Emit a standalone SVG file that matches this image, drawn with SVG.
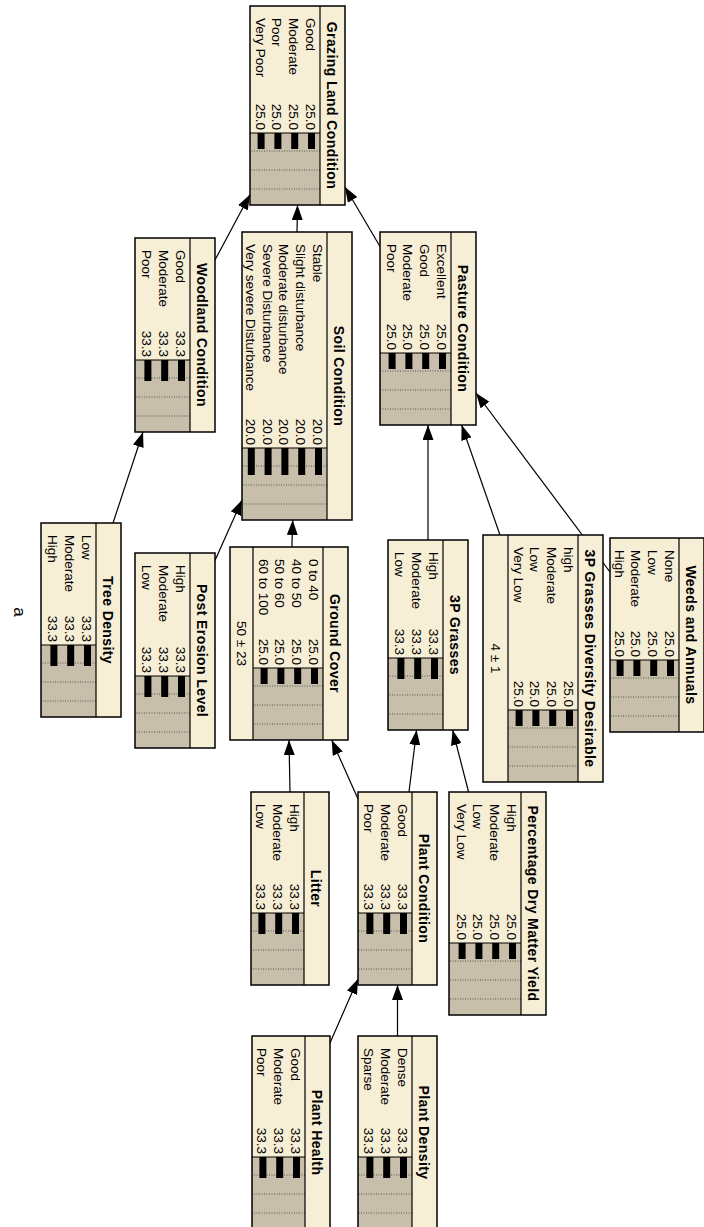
<svg xmlns="http://www.w3.org/2000/svg" width="704" height="1227" viewBox="0 0 704 1227">
<style>
.body{fill:#F7EED6;stroke:none}
.barea{fill:#C8BFAA}
.frame{fill:none;stroke:#000;stroke-width:1.5}
.sep{fill:none;stroke:#000;stroke-width:1.2}
.grid{fill:none;stroke:#555;stroke-width:1;stroke-dasharray:1 1.5}
.bar{fill:#000}
.title{font-family:"Liberation Sans",Arial,sans-serif;font-size:14px;font-weight:bold;letter-spacing:0.4px;text-anchor:middle;fill:#000}
.lab{font-family:"Liberation Sans",Arial,sans-serif;font-size:13.5px;fill:#000}
.val{font-family:"Liberation Sans",Arial,sans-serif;font-size:13.5px;text-anchor:end;fill:#000}
.ev{font-family:"Liberation Sans",Arial,sans-serif;font-size:13.5px;text-anchor:middle;fill:#000}
.link{fill:none;stroke:#000;stroke-width:1.2;marker-end:url(#ah)}
.cap{font-family:"Liberation Sans",Arial,sans-serif;font-size:17px;text-anchor:middle;fill:#000}
</style>
<defs>
<marker id="ah" markerUnits="userSpaceOnUse" markerWidth="16" markerHeight="11" refX="15" refY="5.5" orient="auto">
<path d="M0,0L15,5.5L0,11z" fill="#000"/>
</marker>
</defs>
<g id="connectors">
<path class="link" d="M297,232L297.5,205"/>
<path class="link" d="M215,260L250,194.5"/>
<path class="link" d="M380,246.5L345,187"/>
<path class="link" d="M610,572L476,393"/>
<path class="link" d="M500,535L461.6,425"/>
<path class="link" d="M428,540L428,425"/>
<path class="link" d="M291.9,547L292.7,520"/>
<path class="link" d="M215,560.5L242,500"/>
<path class="link" d="M113,523L143,432"/>
<path class="link" d="M290,792L289,740"/>
<path class="link" d="M358,799L331.7,740"/>
<path class="link" d="M409,792L416.6,730"/>
<path class="link" d="M468.6,792L452.6,730"/>
<path class="link" d="M397.5,1036L397.5,985"/>
<path class="link" d="M330,1043L358,979"/>
</g>

<g id="grazing" transform="translate(345,6) rotate(90)">
<rect class="body" width="199" height="95"/>
<rect class="barea" x="127" y="25" width="72" height="70"/>
<path class="grid" d="M145,25V95M164,25V95M183,25V95"/>
<path class="sep" d="M0,25H199M127,25V95"/>
<rect class="frame" width="199" height="95"/>
<text class="title" x="99.5" y="18">Grazing Land Condition</text>
<text class="lab" x="12" y="39">Good</text><text class="val" x="124" y="39">25.0</text>
<text class="lab" x="12" y="55.8">Moderate</text><text class="val" x="124" y="55.8">25.0</text>
<text class="lab" x="12" y="72.6">Poor</text><text class="val" x="124" y="72.6">25.0</text>
<text class="lab" x="12" y="89.4">Very Poor</text><text class="val" x="124" y="89.4">25.0</text>
<rect class="bar" x="127" y="30" width="16" height="7"/>
<rect class="bar" x="127" y="46.8" width="16" height="7"/>
<rect class="bar" x="127" y="63.6" width="16" height="7"/>
<rect class="bar" x="127" y="80.4" width="16" height="7"/>
</g>

<g id="pasture" transform="translate(476,232) rotate(90)">
<rect class="body" width="193" height="96"/>
<rect class="barea" x="121" y="25" width="72" height="71"/>
<path class="grid" d="M139,25V96M158,25V96M177,25V96"/>
<path class="sep" d="M0,25H193M121,25V96"/>
<rect class="frame" width="193" height="96"/>
<text class="title" x="96.5" y="18">Pasture Condition</text>
<text class="lab" x="12" y="39">Excellent</text><text class="val" x="118" y="39">25.0</text>
<text class="lab" x="12" y="55.8">Good</text><text class="val" x="118" y="55.8">25.0</text>
<text class="lab" x="12" y="72.6">Moderate</text><text class="val" x="118" y="72.6">25.0</text>
<text class="lab" x="12" y="89.4">Poor</text><text class="val" x="118" y="89.4">25.0</text>
<rect class="bar" x="121" y="30" width="16" height="7"/>
<rect class="bar" x="121" y="46.8" width="16" height="7"/>
<rect class="bar" x="121" y="63.6" width="16" height="7"/>
<rect class="bar" x="121" y="80.4" width="16" height="7"/>
</g>

<g id="soil" transform="translate(352,232) rotate(90)">
<rect class="body" width="288" height="110"/>
<rect class="barea" x="216" y="25" width="72" height="85"/>
<path class="grid" d="M234,25V110M253,25V110M272,25V110"/>
<path class="sep" d="M0,25H288M216,25V110"/>
<rect class="frame" width="288" height="110"/>
<text class="title" x="144" y="18">Soil Condition</text>
<text class="lab" x="12" y="39">Stable</text><text class="val" x="213" y="39">20.0</text>
<text class="lab" x="12" y="55.8">Slight disturbance</text><text class="val" x="213" y="55.8">20.0</text>
<text class="lab" x="12" y="72.6">Moderate disturbance</text><text class="val" x="213" y="72.6">20.0</text>
<text class="lab" x="12" y="89.4">Severe Disturbance</text><text class="val" x="213" y="89.4">20.0</text>
<text class="lab" x="12" y="106.2">Very severe Disturbance</text><text class="val" x="213" y="106.2">20.0</text>
<rect class="bar" x="216" y="30" width="27" height="7"/>
<rect class="bar" x="216" y="46.8" width="27" height="7"/>
<rect class="bar" x="216" y="63.6" width="27" height="7"/>
<rect class="bar" x="216" y="80.4" width="27" height="7"/>
<rect class="bar" x="216" y="97.2" width="27" height="7"/>
</g>

<g id="woodland" transform="translate(215,238) rotate(90)">
<rect class="body" width="194" height="80"/>
<rect class="barea" x="122" y="25" width="72" height="55"/>
<path class="grid" d="M140,25V80M159,25V80M178,25V80"/>
<path class="sep" d="M0,25H194M122,25V80"/>
<rect class="frame" width="194" height="80"/>
<text class="title" x="97" y="18">Woodland Condition</text>
<text class="lab" x="12" y="39">Good</text><text class="val" x="119" y="39">33.3</text>
<text class="lab" x="12" y="55.8">Moderate</text><text class="val" x="119" y="55.8">33.3</text>
<text class="lab" x="12" y="72.6">Poor</text><text class="val" x="119" y="72.6">33.3</text>
<rect class="bar" x="122" y="30" width="21" height="7"/>
<rect class="bar" x="122" y="46.8" width="21" height="7"/>
<rect class="bar" x="122" y="63.6" width="21" height="7"/>
</g>

<g id="weeds" transform="translate(704,538) rotate(90)">
<rect class="body" width="194" height="94"/>
<rect class="barea" x="122" y="25" width="72" height="69"/>
<path class="grid" d="M140,25V94M159,25V94M178,25V94"/>
<path class="sep" d="M0,25H194M122,25V94"/>
<rect class="frame" width="194" height="94"/>
<text class="title" x="97" y="18">Weeds and Annuals</text>
<text class="lab" x="12" y="39">None</text><text class="val" x="119" y="39">25.0</text>
<text class="lab" x="12" y="55.8">Low</text><text class="val" x="119" y="55.8">25.0</text>
<text class="lab" x="12" y="72.6">Moderate</text><text class="val" x="119" y="72.6">25.0</text>
<text class="lab" x="12" y="89.4">High</text><text class="val" x="119" y="89.4">25.0</text>
<rect class="bar" x="122" y="30" width="16" height="7"/>
<rect class="bar" x="122" y="46.8" width="16" height="7"/>
<rect class="bar" x="122" y="63.6" width="16" height="7"/>
<rect class="bar" x="122" y="80.4" width="16" height="7"/>
</g>

<g id="div3p" transform="translate(603,535) rotate(90)">
<rect class="body" width="247" height="120"/>
<rect class="barea" x="175" y="25" width="72" height="70"/>
<path class="grid" d="M193,25V95M212,25V95M231,25V95"/>
<path class="sep" d="M0,25H247M175,25V95M0,95H247"/>
<rect class="frame" width="247" height="120"/>
<text class="title" x="123.5" y="18">3P Grasses Diversity Desirable</text>
<text class="lab" x="12" y="39">high</text><text class="val" x="172" y="39">25.0</text>
<text class="lab" x="12" y="55.8">Moderate</text><text class="val" x="172" y="55.8">25.0</text>
<text class="lab" x="12" y="72.6">Low</text><text class="val" x="172" y="72.6">25.0</text>
<text class="lab" x="12" y="89.4">Very Low</text><text class="val" x="172" y="89.4">25.0</text>
<rect class="bar" x="175" y="30" width="16" height="7"/>
<rect class="bar" x="175" y="46.8" width="16" height="7"/>
<rect class="bar" x="175" y="63.6" width="16" height="7"/>
<rect class="bar" x="175" y="80.4" width="16" height="7"/>
<text class="ev" x="123.5" y="112">4 ± 1</text>
</g>

<g id="grass3p" transform="translate(468,540) rotate(90)">
<rect class="body" width="190" height="80"/>
<rect class="barea" x="118" y="25" width="72" height="55"/>
<path class="grid" d="M136,25V80M155,25V80M174,25V80"/>
<path class="sep" d="M0,25H190M118,25V80"/>
<rect class="frame" width="190" height="80"/>
<text class="title" x="95" y="18">3P Grasses</text>
<text class="lab" x="12" y="39">High</text><text class="val" x="115" y="39">33.3</text>
<text class="lab" x="12" y="55.8">Moderate</text><text class="val" x="115" y="55.8">33.3</text>
<text class="lab" x="12" y="72.6">Low</text><text class="val" x="115" y="72.6">33.3</text>
<rect class="bar" x="118" y="30" width="21" height="7"/>
<rect class="bar" x="118" y="46.8" width="21" height="7"/>
<rect class="bar" x="118" y="63.6" width="21" height="7"/>
</g>

<g id="ground" transform="translate(348,547) rotate(90)">
<rect class="body" width="193" height="118"/>
<rect class="barea" x="121" y="25" width="72" height="70"/>
<path class="grid" d="M139,25V95M158,25V95M177,25V95"/>
<path class="sep" d="M0,25H193M121,25V95M0,95H193"/>
<rect class="frame" width="193" height="118"/>
<text class="title" x="96.5" y="18">Ground Cover</text>
<text class="lab" x="12" y="39">0 to 40</text><text class="val" x="118" y="39">25.0</text>
<text class="lab" x="12" y="55.8">40 to 50</text><text class="val" x="118" y="55.8">25.0</text>
<text class="lab" x="12" y="72.6">50 to 60</text><text class="val" x="118" y="72.6">25.0</text>
<text class="lab" x="12" y="89.4">60 to 100</text><text class="val" x="118" y="89.4">25.0</text>
<rect class="bar" x="121" y="30" width="16" height="7"/>
<rect class="bar" x="121" y="46.8" width="16" height="7"/>
<rect class="bar" x="121" y="63.6" width="16" height="7"/>
<rect class="bar" x="121" y="80.4" width="16" height="7"/>
<text class="ev" x="96.5" y="111">50 ± 23</text>
</g>

<g id="erosion" transform="translate(215,553) rotate(90)">
<rect class="body" width="195" height="80"/>
<rect class="barea" x="123" y="25" width="72" height="55"/>
<path class="grid" d="M141,25V80M160,25V80M179,25V80"/>
<path class="sep" d="M0,25H195M123,25V80"/>
<rect class="frame" width="195" height="80"/>
<text class="title" x="97.5" y="18">Post Erosion Level</text>
<text class="lab" x="12" y="39">High</text><text class="val" x="120" y="39">33.3</text>
<text class="lab" x="12" y="55.8">Moderate</text><text class="val" x="120" y="55.8">33.3</text>
<text class="lab" x="12" y="72.6">Low</text><text class="val" x="120" y="72.6">33.3</text>
<rect class="bar" x="123" y="30" width="21" height="7"/>
<rect class="bar" x="123" y="46.8" width="21" height="7"/>
<rect class="bar" x="123" y="63.6" width="21" height="7"/>
</g>

<g id="tree" transform="translate(121,523) rotate(90)">
<rect class="body" width="194" height="80"/>
<rect class="barea" x="122" y="25" width="72" height="55"/>
<path class="grid" d="M140,25V80M159,25V80M178,25V80"/>
<path class="sep" d="M0,25H194M122,25V80"/>
<rect class="frame" width="194" height="80"/>
<text class="title" x="97" y="18">Tree Density</text>
<text class="lab" x="12" y="39">Low</text><text class="val" x="119" y="39">33.3</text>
<text class="lab" x="12" y="55.8">Moderate</text><text class="val" x="119" y="55.8">33.3</text>
<text class="lab" x="12" y="72.6">High</text><text class="val" x="119" y="72.6">33.3</text>
<rect class="bar" x="122" y="30" width="21" height="7"/>
<rect class="bar" x="122" y="46.8" width="21" height="7"/>
<rect class="bar" x="122" y="63.6" width="21" height="7"/>
</g>

<g id="pdmy" transform="translate(546,792) rotate(90)">
<rect class="body" width="223" height="97"/>
<rect class="barea" x="151" y="25" width="72" height="72"/>
<path class="grid" d="M169,25V97M188,25V97M207,25V97"/>
<path class="sep" d="M0,25H223M151,25V97"/>
<rect class="frame" width="223" height="97"/>
<text class="title" x="111.5" y="18">Percentage Dry Matter Yield</text>
<text class="lab" x="12" y="39">High</text><text class="val" x="148" y="39">25.0</text>
<text class="lab" x="12" y="55.8">Moderate</text><text class="val" x="148" y="55.8">25.0</text>
<text class="lab" x="12" y="72.6">Low</text><text class="val" x="148" y="72.6">25.0</text>
<text class="lab" x="12" y="89.4">Very Low</text><text class="val" x="148" y="89.4">25.0</text>
<rect class="bar" x="151" y="30" width="16" height="7"/>
<rect class="bar" x="151" y="46.8" width="16" height="7"/>
<rect class="bar" x="151" y="63.6" width="16" height="7"/>
<rect class="bar" x="151" y="80.4" width="16" height="7"/>
</g>

<g id="litter" transform="translate(329,792) rotate(90)">
<rect class="body" width="193" height="78"/>
<rect class="barea" x="121" y="25" width="72" height="53"/>
<path class="grid" d="M139,25V78M158,25V78M177,25V78"/>
<path class="sep" d="M0,25H193M121,25V78"/>
<rect class="frame" width="193" height="78"/>
<text class="title" x="96.5" y="18">Litter</text>
<text class="lab" x="12" y="39">High</text><text class="val" x="118" y="39">33.3</text>
<text class="lab" x="12" y="55.8">Moderate</text><text class="val" x="118" y="55.8">33.3</text>
<text class="lab" x="12" y="72.6">Low</text><text class="val" x="118" y="72.6">33.3</text>
<rect class="bar" x="121" y="30" width="21" height="7"/>
<rect class="bar" x="121" y="46.8" width="21" height="7"/>
<rect class="bar" x="121" y="63.6" width="21" height="7"/>
</g>

<g id="plantcond" transform="translate(437,792) rotate(90)">
<rect class="body" width="193" height="79"/>
<rect class="barea" x="121" y="25" width="72" height="54"/>
<path class="grid" d="M139,25V79M158,25V79M177,25V79"/>
<path class="sep" d="M0,25H193M121,25V79"/>
<rect class="frame" width="193" height="79"/>
<text class="title" x="96.5" y="18">Plant Condition</text>
<text class="lab" x="12" y="39">Good</text><text class="val" x="118" y="39">33.3</text>
<text class="lab" x="12" y="55.8">Moderate</text><text class="val" x="118" y="55.8">33.3</text>
<text class="lab" x="12" y="72.6">Poor</text><text class="val" x="118" y="72.6">33.3</text>
<rect class="bar" x="121" y="30" width="21" height="7"/>
<rect class="bar" x="121" y="46.8" width="21" height="7"/>
<rect class="bar" x="121" y="63.6" width="21" height="7"/>
</g>

<g id="plantdens" transform="translate(437,1036) rotate(90)">
<rect class="body" width="193" height="79"/>
<rect class="barea" x="121" y="25" width="72" height="54"/>
<path class="grid" d="M139,25V79M158,25V79M177,25V79"/>
<path class="sep" d="M0,25H193M121,25V79"/>
<rect class="frame" width="193" height="79"/>
<text class="title" x="96.5" y="18">Plant Density</text>
<text class="lab" x="12" y="39">Dense</text><text class="val" x="118" y="39">33.3</text>
<text class="lab" x="12" y="55.8">Moderate</text><text class="val" x="118" y="55.8">33.3</text>
<text class="lab" x="12" y="72.6">Sparse</text><text class="val" x="118" y="72.6">33.3</text>
<rect class="bar" x="121" y="30" width="21" height="7"/>
<rect class="bar" x="121" y="46.8" width="21" height="7"/>
<rect class="bar" x="121" y="63.6" width="21" height="7"/>
</g>

<g id="planthealth" transform="translate(330,1036) rotate(90)">
<rect class="body" width="193" height="78"/>
<rect class="barea" x="121" y="25" width="72" height="53"/>
<path class="grid" d="M139,25V78M158,25V78M177,25V78"/>
<path class="sep" d="M0,25H193M121,25V78"/>
<rect class="frame" width="193" height="78"/>
<text class="title" x="96.5" y="18">Plant Health</text>
<text class="lab" x="12" y="39">Good</text><text class="val" x="118" y="39">33.3</text>
<text class="lab" x="12" y="55.8">Moderate</text><text class="val" x="118" y="55.8">33.3</text>
<text class="lab" x="12" y="72.6">Poor</text><text class="val" x="118" y="72.6">33.3</text>
<rect class="bar" x="121" y="30" width="21" height="7"/>
<rect class="bar" x="121" y="46.8" width="21" height="7"/>
<rect class="bar" x="121" y="63.6" width="21" height="7"/>
</g>

<text class="cap" transform="translate(14,612) rotate(90)">a</text>
</svg>
